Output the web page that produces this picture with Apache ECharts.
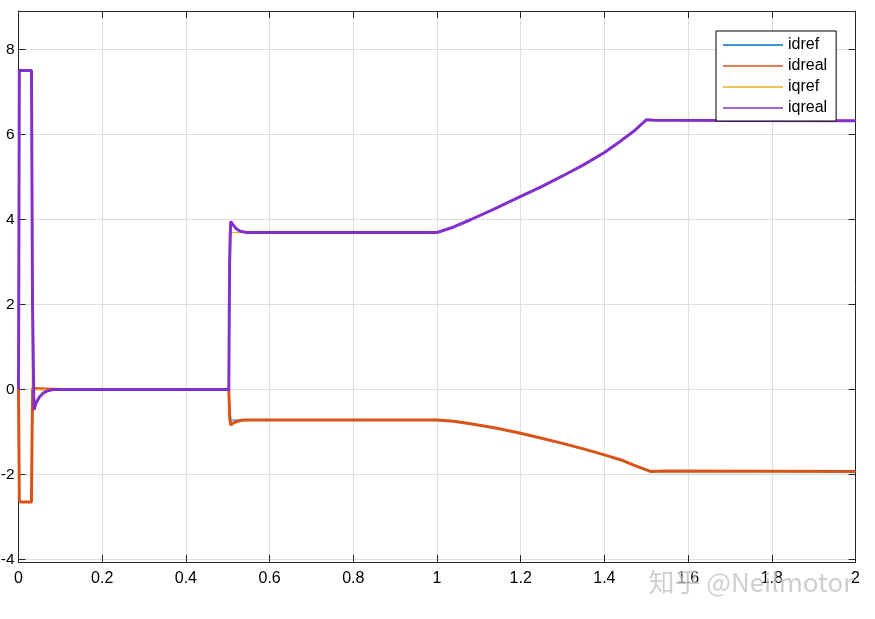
<!DOCTYPE html>
<html>
<head>
<meta charset="utf-8">
<script src="https://cdn.jsdelivr.net/npm/echarts@6/dist/echarts.min.js"></script>
<style>
html,body{margin:0;padding:0;background:#fff;}
#chart{width:875px;height:619px;}
</style>
</head>
<body>
<div id="chart"></div>
<script>
// ---- data ----
const seriesNames = ['idref', 'idreal', 'iqref', 'iqreal'];
const xTicks = [0, 0.2, 0.4, 0.6, 0.8, 1, 1.2, 1.4, 1.6, 1.8, 2];
const yTicks = [-4, -2, 0, 2, 4, 6, 8];

const idrefT = [0, 0.002, 0.032, 0.0325, 0.5025, 0.5035, 1.0, 1.04, 1.08, 1.14, 1.2, 1.25, 1.3, 1.35, 1.4, 1.44, 1.47, 1.51, 2.0];
const idrefV = [0, -2.65, -2.65, 0, 0, -0.72, -0.72, -0.75, -0.81, -0.91, -1.03, -1.15, -1.27, -1.40, -1.54, -1.66, -1.78, -1.93, -1.93];

const idrealT = [0, 0.002, 0.004, 0.031, 0.0325, 0.034, 0.1, 0.5025, 0.5045, 0.507, 0.512, 0.52, 0.53, 0.54, 0.6, 1.0, 1.04, 1.08, 1.14, 1.2, 1.25, 1.3, 1.35, 1.4, 1.44, 1.47, 1.51, 1.55, 2.0];
const idrealV = [0, -2.6, -2.65, -2.65, -1.0, 0.02, 0.0, 0.0, -0.6, -0.84, -0.8, -0.76, -0.73, -0.72, -0.72, -0.72, -0.75, -0.81, -0.91, -1.03, -1.15, -1.27, -1.40, -1.54, -1.66, -1.78, -1.93, -1.92, -1.93];

const iqrefT = [0, 0.002, 0.032, 0.0325, 0.5025, 0.5035, 1.0, 1.04, 1.08, 1.14, 1.2, 1.25, 1.3, 1.35, 1.4, 1.44, 1.47, 1.5, 2.0];
const iqrefV = [0, 7.5, 7.5, 0, 0, 3.69, 3.69, 3.82, 3.99, 4.26, 4.54, 4.77, 5.02, 5.28, 5.57, 5.85, 6.07, 6.33, 6.33];

const iqrealT = [0, 0.002, 0.004, 0.031, 0.0335, 0.037, 0.042, 0.05, 0.06, 0.07, 0.085, 0.1, 0.5025, 0.5045, 0.507, 0.512, 0.52, 0.53, 0.545, 0.6, 1.0, 1.04, 1.08, 1.14, 1.2, 1.25, 1.3, 1.35, 1.4, 1.44, 1.47, 1.5, 1.52, 2.0];
const iqrealV = [0, 7.5, 7.52, 7.5, 2.0, -0.48, -0.32, -0.18, -0.08, -0.03, 0, 0, 0, 3.0, 3.95, 3.88, 3.78, 3.72, 3.69, 3.69, 3.69, 3.82, 3.99, 4.26, 4.54, 4.77, 5.02, 5.28, 5.57, 5.85, 6.07, 6.34, 6.33, 6.32];

const watermarkText = '知乎 @Neilmotor';

// ---- chart ----
function pairs(t, v) { return t.map((x, i) => [x, v[i]]); }
const colors = ['#0072BD', '#D95319', '#EDB120', '#8230CC'];
const font = '"Liberation Sans", Arial, sans-serif';
const axisColor = '#262626';

const chart = echarts.init(document.getElementById('chart'), null, {renderer: 'canvas'});
const lineAxis = {show: true, onZero: false, lineStyle: {color: axisColor, width: 1}};
const tickStyle = {show: true, inside: true, length: 7, lineStyle: {color: axisColor}};
chart.setOption({
  animation: false,
  backgroundColor: '#fff',
  color: colors,
  grid: {left: 18.5, right: 19.5, top: 11, bottom: 57, containLabel: false, outerBoundsMode: 'none'},
  legend: {
    data: seriesNames,
    orient: 'vertical',
    left: 716, top: 31,
    icon: 'rect',
    itemWidth: 60, itemHeight: 1.5,
    itemGap: 5,
    padding: [6, 9, 5, 7],
    backgroundColor: '#fff',
    borderColor: '#000', borderWidth: 1,
    textStyle: {color: '#000', fontSize: 16, fontFamily: font, lineHeight: 16}
  },
  xAxis: [{
    type: 'value', min: 0, max: 2, interval: 0.2,
    axisLine: lineAxis,
    axisTick: tickStyle,
    axisLabel: {color: '#000', fontSize: 16, fontFamily: font, margin: 9},
    splitLine: {show: true, lineStyle: {color: '#dfdfdf', width: 1}}
  }, {
    type: 'value', min: 0, max: 2, interval: 0.2, position: 'top',
    axisLine: lineAxis,
    axisTick: tickStyle,
    axisLabel: {show: false}, splitLine: {show: false}
  }],
  yAxis: [{
    type: 'value', min: -4.06, max: 8.9,
    axisLine: lineAxis,
    axisTick: Object.assign({customValues: yTicks}, tickStyle),
    axisLabel: {color: '#000', fontSize: 15.5, fontFamily: font, margin: 4, customValues: yTicks},
    splitLine: {show: true, lineStyle: {color: '#dfdfdf', width: 1}}
  }, {
    type: 'value', min: -4.06, max: 8.9, position: 'right',
    axisLine: lineAxis,
    axisTick: Object.assign({customValues: yTicks}, tickStyle),
    axisLabel: {show: false}, splitLine: {show: false}
  }],
  series: [
    {name: 'idref', type: 'line', data: pairs(idrefT, idrefV), symbol: 'none', lineStyle: {width: 1.2}},
    {name: 'idreal', type: 'line', data: pairs(idrealT, idrealV), symbol: 'none', lineStyle: {width: 3}},
    {name: 'iqref', type: 'line', data: pairs(iqrefT, iqrefV), symbol: 'none', lineStyle: {width: 1}},
    {name: 'iqreal', type: 'line', data: pairs(iqrealT, iqrealV), symbol: 'none', lineStyle: {width: 3}}
  ],
  graphic: [{
    type: 'text', left: 648, top: 569, z: 100, silent: true,
    style: {
      text: watermarkText, fontSize: 26, fontFamily: '"Noto Sans CJK SC", "Noto Sans", sans-serif',
      fill: 'rgba(185,185,185,0.7)', stroke: 'rgba(255,255,255,0.5)', lineWidth: 1
    }
  }]
});
</script>
</body>
</html>
